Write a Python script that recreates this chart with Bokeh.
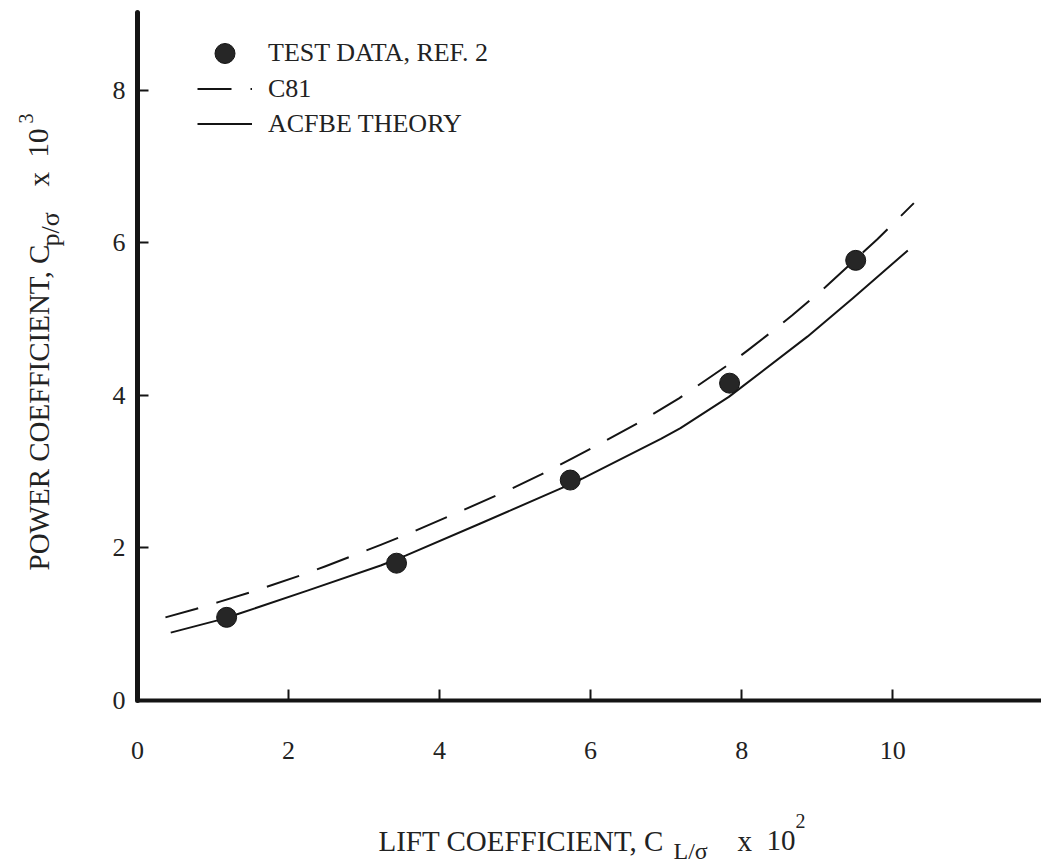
import math
from bokeh.plotting import figure
from bokeh.models import Range1d, Label, Legend, LegendItem, FixedTicker, ColumnDataSource
from bokeh.embed import file_html
from bokeh.resources import INLINE

# ---- data ----
test_x = [1.18, 3.43, 5.73, 7.84, 9.51]
test_y = [1.09, 1.80, 2.89, 4.16, 5.77]

c81_x = [0.37, 0.77, 1.07, 1.50, 2.19, 2.49, 3.22, 3.62, 4.30, 4.94, 5.34, 5.77,
         6.11, 6.65, 7.17, 7.85, 8.08, 8.47, 8.67, 9.11, 9.80, 10.28]
c81_y = [1.09, 1.20, 1.29, 1.42, 1.65, 1.76, 2.04, 2.20, 2.49, 2.77, 2.96, 3.18,
         3.36, 3.65, 3.96, 4.42, 4.59, 4.89, 5.05, 5.42, 6.05, 6.52]

acfbe_x = [0.44, 1.06, 1.32, 2.25, 3.22, 3.55, 4.54, 5.63, 5.89, 6.93, 7.19,
           7.83, 8.87, 9.48, 10.20]
acfbe_y = [0.89, 1.05, 1.13, 1.44, 1.77, 1.90, 2.32, 2.79, 2.91, 3.43, 3.57,
           3.98, 4.77, 5.28, 5.90]

x_ticks = [0, 2, 4, 6, 8, 10]
y_ticks = [0, 2, 4, 6, 8]

# ---- layout (frame = whole canvas, axes at fixed locations) ----
W, H = 1041, 862
OX, OY = 137, 700          # pixel position of the data origin
SX, SY = 75.52, 76.28      # pixels per data unit
FONT = "Liberation Serif"
INK = "#141414"
TXT = "#222222"

p = figure(width=W, height=H,
           x_range=Range1d(-OX / SX, (W - OX) / SX),
           y_range=Range1d(-(H - OY) / SY, OY / SY),
           output_backend="svg", toolbar_location=None,
           min_border=0, min_border_left=0, min_border_right=0,
           min_border_top=0, min_border_bottom=0)
p.outline_line_color = None
p.grid.visible = False
p.background_fill_color = "white"
p.border_fill_color = "white"

xa, ya = p.xaxis[0], p.yaxis[0]
xa.fixed_location = 0
ya.fixed_location = 0
xa.bounds = (0, (W - OX) / SX)
ya.bounds = (0, 9.02)
for ax, ticks, standoff in ((xa, x_ticks, 41), (ya, y_ticks, 12)):
    ax.ticker = FixedTicker(ticks=ticks)
    ax.minor_tick_line_color = None
    ax.major_tick_in = 11
    ax.major_tick_out = 0
    ax.major_tick_line_width = 2
    ax.major_tick_line_color = INK
    ax.axis_line_color = INK
    ax.axis_line_cap = "round"
    ax.major_label_text_font = FONT
    ax.major_label_text_font_size = "26px"
    ax.major_label_text_color = TXT
    ax.major_label_standoff = standoff
xa.axis_line_width = 4
ya.axis_line_width = 5

src_c81 = ColumnDataSource(dict(x=c81_x, y=c81_y))
src_acf = ColumnDataSource(dict(x=acfbe_x, y=acfbe_y))
src_test = ColumnDataSource(dict(x=test_x, y=test_y))

r_c81 = p.line("x", "y", source=src_c81, line_color=INK, line_width=2,
               line_dash="34 19", line_join="round")
r_acf = p.line("x", "y", source=src_acf, line_color=INK, line_width=2, line_join="round")
r_test = p.scatter("x", "y", source=src_test, size=20, fill_color="#262626",
                   line_color=INK, line_width=1)

common = dict(orientation="vertical", glyph_width=55, label_standoff=16, padding=0,
              margin=0, spacing=0, border_line_color=None, background_fill_alpha=0,
              label_text_font=FONT, label_text_font_size="26px", label_text_color=TXT)
# legend locations are pixels from the bottom-left of the frame (= canvas)
leg1 = Legend(items=[LegendItem(label="TEST DATA, REF. 2", renderers=[r_test])],
              location=(197, H - 78), glyph_height=50, label_height=50, **common)
leg2 = Legend(items=[LegendItem(label="C81", renderers=[r_c81]),
                     LegendItem(label="ACFBE THEORY", renderers=[r_acf])],
              location=(197, H - 141), glyph_height=35, label_height=35, **common)
p.add_layout(leg1, "center")
p.add_layout(leg2, "center")


def dx(px):
    return (px - OX) / SX


def dy(py):
    return (OY - py) / SY


def lab(text, px, py, size, angle=0.0):
    p.add_layout(Label(x=dx(px), y=dy(py), x_units="data", y_units="data", text=text,
                       text_font=FONT, text_font_size=f"{size}px", text_color=TXT,
                       text_align="left", text_baseline="alphabetic", angle=angle))


# x-axis title: LIFT COEFFICIENT, C_{L/σ} x 10^2
lab("LIFT COEFFICIENT, C", 378, 840, 29)
lab("L/σ", 673, 850, 24)
lab("x", 737, 840, 29)
lab("10", 766, 840, 29)
lab("2", 795, 820, 20)

# y-axis title: POWER COEFFICIENT, C_{p/σ} x 10^3 (rotated)
A = math.pi / 2
lab("POWER COEFFICIENT, C", 38, 570, 29, A)
lab("p/σ", 50, 246, 26, A)
lab("x", 38, 186, 29, A)
lab("10", 38, 157, 29, A)
lab("3", 25, 123, 20, A)

open("out.html", "w").write(file_html(p, INLINE))
